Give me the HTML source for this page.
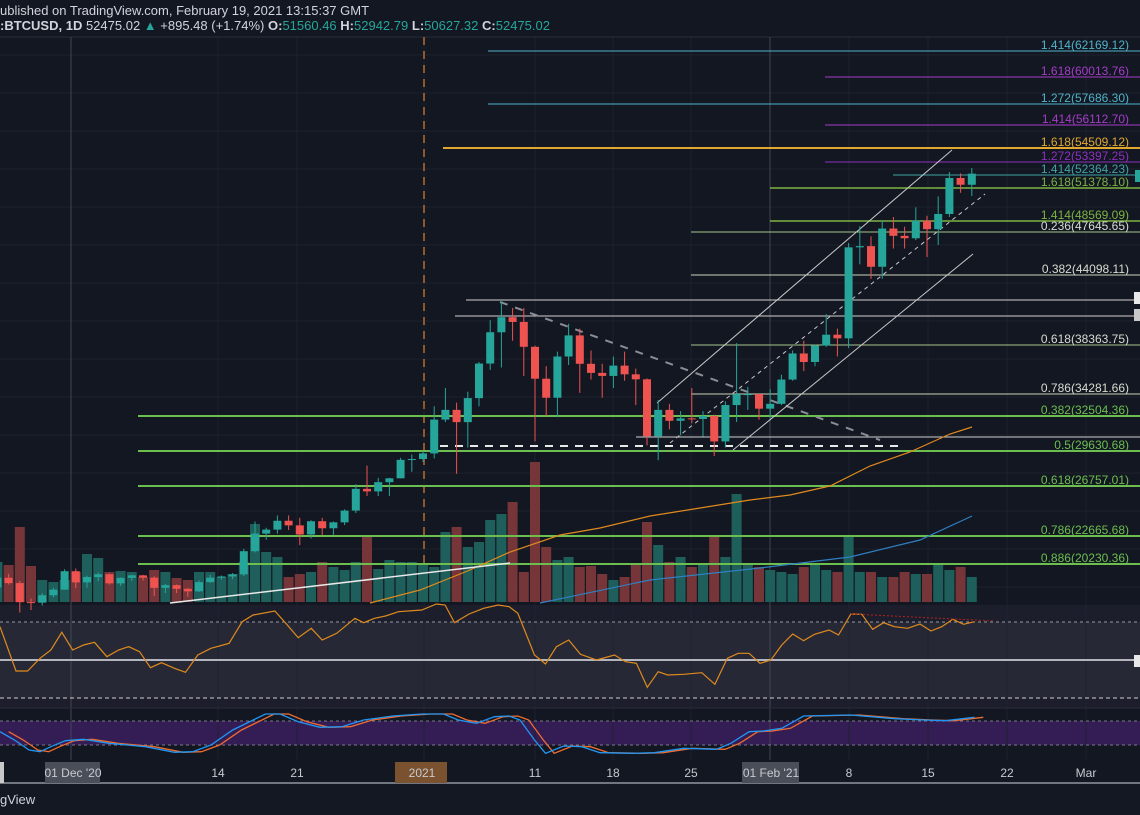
<!DOCTYPE html>
<html><head><meta charset="utf-8"><style>
html,body{margin:0;padding:0;background:#131722;width:1140px;height:815px;overflow:hidden;font-family:"Liberation Sans",sans-serif}
svg{display:block}
</style></head><body>
<svg id="s" width="1140" height="815" xmlns="http://www.w3.org/2000/svg"></svg>
<script>
const S=document.getElementById('s');let h='';
const X=d=>423+11.2*d, Y=p=>175+(52364-p)*0.01213;
h+='<rect width="1140" height="815" fill="#131722"/>';
h+='<rect x="0" y="783" width="1140" height="32" fill="#141823"/>';
h+='<rect x="0" y="605" width="1140" height="103" fill="#1c1f2b"/><rect x="0" y="622" width="1140" height="76" fill="#262935"/>';
h+='<rect x="0" y="721" width="1140" height="24" fill="#341c55"/>';
for(let gx of [71,218,297,424,535,613,691,770,849,928,1007,1086])h+=`<line x1="${gx}" y1="37" x2="${gx}" y2="760" stroke="#1e2230" stroke-width="1"/>`;
for(let gy=55;gy<600;gy+=38)h+=`<line x1="0" y1="${gy}" x2="1140" y2="${gy}" stroke="#1c202c"/>`;
h+='<line x1="0" y1="37" x2="1140" y2="37" stroke="#2a2e39"/>';
h+='<line x1="71" y1="37" x2="71" y2="760" stroke="#434651"/><line x1="770" y1="37" x2="770" y2="760" stroke="#434651"/>';
h+='<line x1="424" y1="37" x2="424" y2="600" stroke="#8a5a2b" stroke-width="2" stroke-dasharray="8,6"/>';
const D=[[18360,19160,19400,18000],[19160,18720,19480,18600],[18720,17150,18900,16300],[17150,17110,17450,16500],[17110,17720,17880,16870],[17720,18180,18330,17550],[18180,19700,19860,18170],[19700,18780,19920,18300],[18780,19220,19330,18350],[19220,19450,19600,18880],[19450,18700,19520,18600],[18700,19150,19180,18500],[19150,19360,19420,18900],[19360,19170,19400,18920],[19170,18330,19290,17650],[18330,18550,18650,17900],[18550,18250,18600,17900],[18250,18040,18300,17600],[18040,18800,18940,18000],[18800,19170,19400,18750],[19170,19270,19350,19000],[19270,19440,19550,19050],[19440,21350,21550,19300],[21350,22800,23800,21250],[22800,23130,23280,22300],[23130,23860,24300,22800],[23860,23480,24300,23100],[23480,22730,24100,21850],[22730,23820,23900,22400],[23820,23240,24100,22700],[23240,23730,23800,22700],[23730,24700,24800,23500],[24700,26490,26870,24500],[26490,26280,28400,25900],[26280,27040,27400,25900],[27040,27360,27400,25900],[27360,28880,29050,27350],[28880,28950,29320,27900],[28950,29410,29600,28700],[29410,32200,33300,29000],[32200,33000,34800,32000],[33000,31990,33600,27730],[31990,33970,34500,29900],[33970,36820,36950,33300],[36820,39400,40400,36300],[39400,40640,41950,36500],[40640,40250,41400,38700],[40250,38200,41400,35800],[38200,35570,38300,30400],[35570,34000,36600,32500],[34000,37400,37800,32400],[37400,39140,40100,36700],[39140,36800,39700,34400],[36800,36050,37900,35500],[36050,35800,36800,34000],[35800,36650,37400,34800],[36650,35930,37800,35400],[35930,35520,36400,33400],[35520,30830,35600,30070],[30830,33000,33800,28850],[33000,32100,33500,31400],[32100,32300,32900,30900],[32300,32250,34800,31900],[32250,32500,32900,30800],[32500,30400,32600,29200],[30400,33400,33700,29900],[33400,34300,38500,32000],[34300,34300,34900,33000],[34300,33100,34300,32200],[33100,33500,34700,32300],[33500,35500,35900,33400],[35500,37650,37900,35400],[37650,36950,38700,36200],[36950,38300,38400,36600],[38300,39200,40900,38200],[39200,38900,39700,37400],[38900,46400,46750,38100],[46400,46500,48150,45000],[46500,44800,47300,43800],[44800,47950,48600,43800],[47950,47350,48900,46300],[47350,47150,48100,46300],[47150,48600,49700,47000],[48600,47900,49000,45600],[47900,49150,50600,46600],[49150,52120,52600,48900],[52120,51560,52500,50900],[51560,52475,52943,50627]];
const V=[40,37,75,36,22,20,22,30,48,44,30,31,30,25,32,30,24,22,30,30,25,28,40,78,50,45,25,28,30,40,35,32,40,65,33,42,40,40,38,35,70,75,55,60,82,88,100,30,140,55,42,45,35,36,28,22,25,38,80,57,40,45,35,38,65,45,108,38,35,32,30,28,35,38,32,30,65,30,30,25,25,30,28,28,38,32,35,25,8];
D.forEach((c,i)=>{const x=X(i-38);const up=c[1]>=c[0];h+=`<rect x="${x-5}" y="${602-V[i]}" width="10" height="${V[i]}" fill="${up?'#1e5f5b':'#763539'}"/>`;});
const F=[[51,488,'#4fb3c9','1.414(62169.12)',1],[77,825,'#a43cc7','1.618(60013.76)',1],[104,488,'#4fb3c9','1.272(57686.30)',1],[125,825,'#a43cc7','1.414(56112.70)',1],[148,443,'#e0a82e','1.618(54509.12)',2],[162,825,'#8e2fbf','1.272(53397.25)',1],[175,893,'#3fa3a5','1.414(52364.23)',1],[188,770,'#7cb342','1.618(51378.10)',1.5],[221,770,'#7cb342','1.414(48569.09)',1.5],[232,691,'#a5c48a','0.236(47645.65)',1],[275,691,'#c8d6b9','0.382(44098.11)',1],[345,691,'#a5c48a','0.618(38363.75)',1],[394,691,'#c8d6b9','0.786(34281.66)',1],[416,138,'#6cbf4f','0.382(32504.36)',2],[451,138,'#6cbf4f','0.5(29630.68)',2],[486,138,'#6cbf4f','0.618(26757.01)',2],[536,138,'#6cbf4f','0.786(22665.68)',2],[564,138,'#6cbf4f','0.886(20230.36)',2]];
F.forEach(f=>{h+=`<line x1="${f[1]}" y1="${f[0]}" x2="1140" y2="${f[0]}" stroke="${f[2]}" stroke-width="${f[4]}"/>`;let tc=f[2];if(tc=='#c8d6b9'||tc=='#a5c48a')tc='#d8dccf';h+=`<text x="1129" y="${f[0]-2}" fill="${tc}" font-size="12" text-anchor="end">${f[3]}</text>`;});
h+='<line x1="466" y1="300" x2="1140" y2="300" stroke="#d0d0d0"/><line x1="455" y1="316" x2="1140" y2="316" stroke="#d0d0d0"/><line x1="636" y1="437" x2="1140" y2="437" stroke="#d0d0d0"/>';
h+='<line x1="440" y1="446" x2="905" y2="446" stroke="#e8e8e8" stroke-width="2" stroke-dasharray="8,7"/>';
h+='<line x1="500" y1="302" x2="880" y2="440" stroke="#8a8d96" stroke-width="2" stroke-dasharray="8,8"/>';
h+='<line x1="657" y1="403" x2="952" y2="150" stroke="#c8c8c8"/><line x1="733" y1="450" x2="973" y2="254" stroke="#c8c8c8"/><line x1="670" y1="443" x2="985" y2="194" stroke="#c8c8c8" stroke-dasharray="4,4"/>';
h+='<polyline fill="none" stroke="#e08a1e" stroke-width="1.2" points="370,603 420,590 470,570 510,552 560,535 600,528 650,516 700,508 750,500 790,495 830,486 870,466 910,452 950,434 972,427"/>';
h+='<polyline fill="none" stroke="#2f7fc1" stroke-width="1.2" points="540,603 650,580 760,568 850,557 920,540 972,516"/>';
h+='<line x1="170" y1="603" x2="510" y2="563" stroke="#e8e8e8" stroke-width="1.5"/>';
D.forEach((c,i)=>{const x=X(i-38);const up=c[1]>=c[0];const col=up?'#26a69a':'#ef5350';const t=Y(Math.max(c[0],c[1])),b=Y(Math.min(c[0],c[1]));h+=`<line x1="${x}" y1="${Y(c[2])}" x2="${x}" y2="${Y(c[3])}" stroke="${col}"/><rect x="${x-4}" y="${t}" width="8" height="${Math.max(1,b-t)}" fill="${col}"/>`;});
h+='<line x1="0" y1="622" x2="1140" y2="622" stroke="#9598a1" stroke-dasharray="3,3"/><line x1="0" y1="698" x2="1140" y2="698" stroke="#d0d0d0" stroke-dasharray="4,3"/><line x1="0" y1="660" x2="1140" y2="660" stroke="#b2b5be" stroke-width="2"/>';
const R=[[0,80],[22,213],[38,213],[55,175],[70,150],[85,97],[100,150],[115,135],[130,127],[147,170],[163,150],[177,140],[192,155],[207,203],[222,188],[240,205],[255,217],[272,165],[290,145],[315,130],[333,65],[348,45],[378,33],[395,75],[410,113],[428,85],[443,120],[463,100],[488,55],[500,68],[515,55],[530,48],[548,35],[580,30],[600,12],[612,15],[625,68],[645,42],[665,25],[685,15],[700,20],[712,40],[735,165],[750,192],[765,140],[782,120],[798,163],[820,180],[845,165],[860,185],[875,190],[890,262],[905,215],[918,225],[940,223],[965,218],[983,253],[1000,175],[1015,160],[1030,160],[1045,190],[1060,180],[1075,135],[1090,102],[1105,122],[1120,103],[1140,90],[1153,105],[1170,42],[1185,43],[1200,88],[1215,68],[1230,80],[1248,85],[1265,72],[1280,93],[1295,80],[1310,58],[1325,73],[1340,65]];
h+='<polyline fill="none" stroke="#e08a1e" stroke-width="1.2" points="'+R.map(p=>(p[0]/1.375).toFixed(1)+','+(600+p[1]/3).toFixed(1)).join(' ')+'"/>';
h+='<line x1="851" y1="614" x2="995" y2="621" stroke="#b22222" stroke-dasharray="2,2"/>';
h+='<line x1="0" y1="708" x2="1140" y2="708" stroke="#2a2e39"/>';
h+='<line x1="0" y1="721" x2="1140" y2="721" stroke="#787b86" stroke-dasharray="3,3"/><line x1="0" y1="745" x2="1140" y2="745" stroke="#787b86" stroke-dasharray="3,3"/>';
const B=[[0,395],[20,420],[40,450],[55,455],[70,440],[90,422],[115,418],[150,430],[200,440],[240,457],[265,455],[290,435],[320,390],[365,342],[385,342],[410,365],[440,382],[470,380],[500,360],[540,348],[580,342],[610,342],[630,360],[655,370],[680,350],[700,348],[715,360],[735,420],[750,460],[775,438],[800,440],[825,458],[870,460],[900,458],[940,445],[985,448],[1005,430],[1030,395],[1050,393],[1075,385],[1105,348],[1170,345],[1230,356],[1270,360],[1300,362],[1340,352]];
const pl=(arr,dx)=>arr.map(p=>((p[0]+dx)/1.375).toFixed(1)+','+(600+p[1]/3).toFixed(1)).join(' ');
h+='<polyline fill="none" stroke="#ef6c2f" stroke-width="1.3" points="'+pl(B,12)+'"/>';
h+='<polyline fill="none" stroke="#2196f3" stroke-width="1.3" points="'+pl(B,0)+'"/>';
h+='<line x1="0" y1="783" x2="1140" y2="783" stroke="#d1d4dc"/>';
h+='<rect x="0" y="762" width="4" height="21" fill="#c8c8c8"/><rect x="45" y="762" width="55" height="21" fill="#4a4e59"/><rect x="395" y="762" width="52" height="21" fill="#7a5230"/><rect x="742" y="762" width="57" height="21" fill="#4a4e59"/>';
[["01 Dec '20",73],["14",218],["21",297],["2021",422],["11",535],["18",613],["25",691],["01 Feb '21",771],["8",849],["15",928],["22",1007],["Mar",1086]].forEach(t=>{h+=`<text x="${t[1]}" y="777" fill="#c8cad0" font-size="12" text-anchor="middle">${t[0]}</text>`;});
h+='<rect x="1135" y="170" width="5" height="12" fill="#26a69a"/><rect x="1134" y="292" width="6" height="12" fill="#e8e8e8"/><rect x="1134" y="309" width="6" height="12" fill="#c8c8c8"/><rect x="1134" y="655" width="6" height="12" fill="#e8e8e8"/>';
h+='<text x="0" y="15" fill="#d1d4dc" font-size="13">ublished on TradingView.com, February 19, 2021 13:15:37 GMT</text>';
h+='<text x="0" y="30" fill="#d1d4dc" font-size="13"><tspan font-weight="bold">:BTCUSD, 1D</tspan> 52475.02 <tspan fill="#26a69a">▲</tspan> +895.48 (+1.74%) <tspan font-weight="bold">O:</tspan><tspan fill="#26a69a">51560.46</tspan> <tspan font-weight="bold">H:</tspan><tspan fill="#26a69a">52942.79</tspan> <tspan font-weight="bold">L:</tspan><tspan fill="#26a69a">50627.32</tspan> <tspan font-weight="bold">C:</tspan><tspan fill="#26a69a">52475.02</tspan></text>';
h+='<text x="0" y="804" fill="#d1d4dc" font-size="13">gView</text>';
S.innerHTML=h;
</script>
</body></html>
